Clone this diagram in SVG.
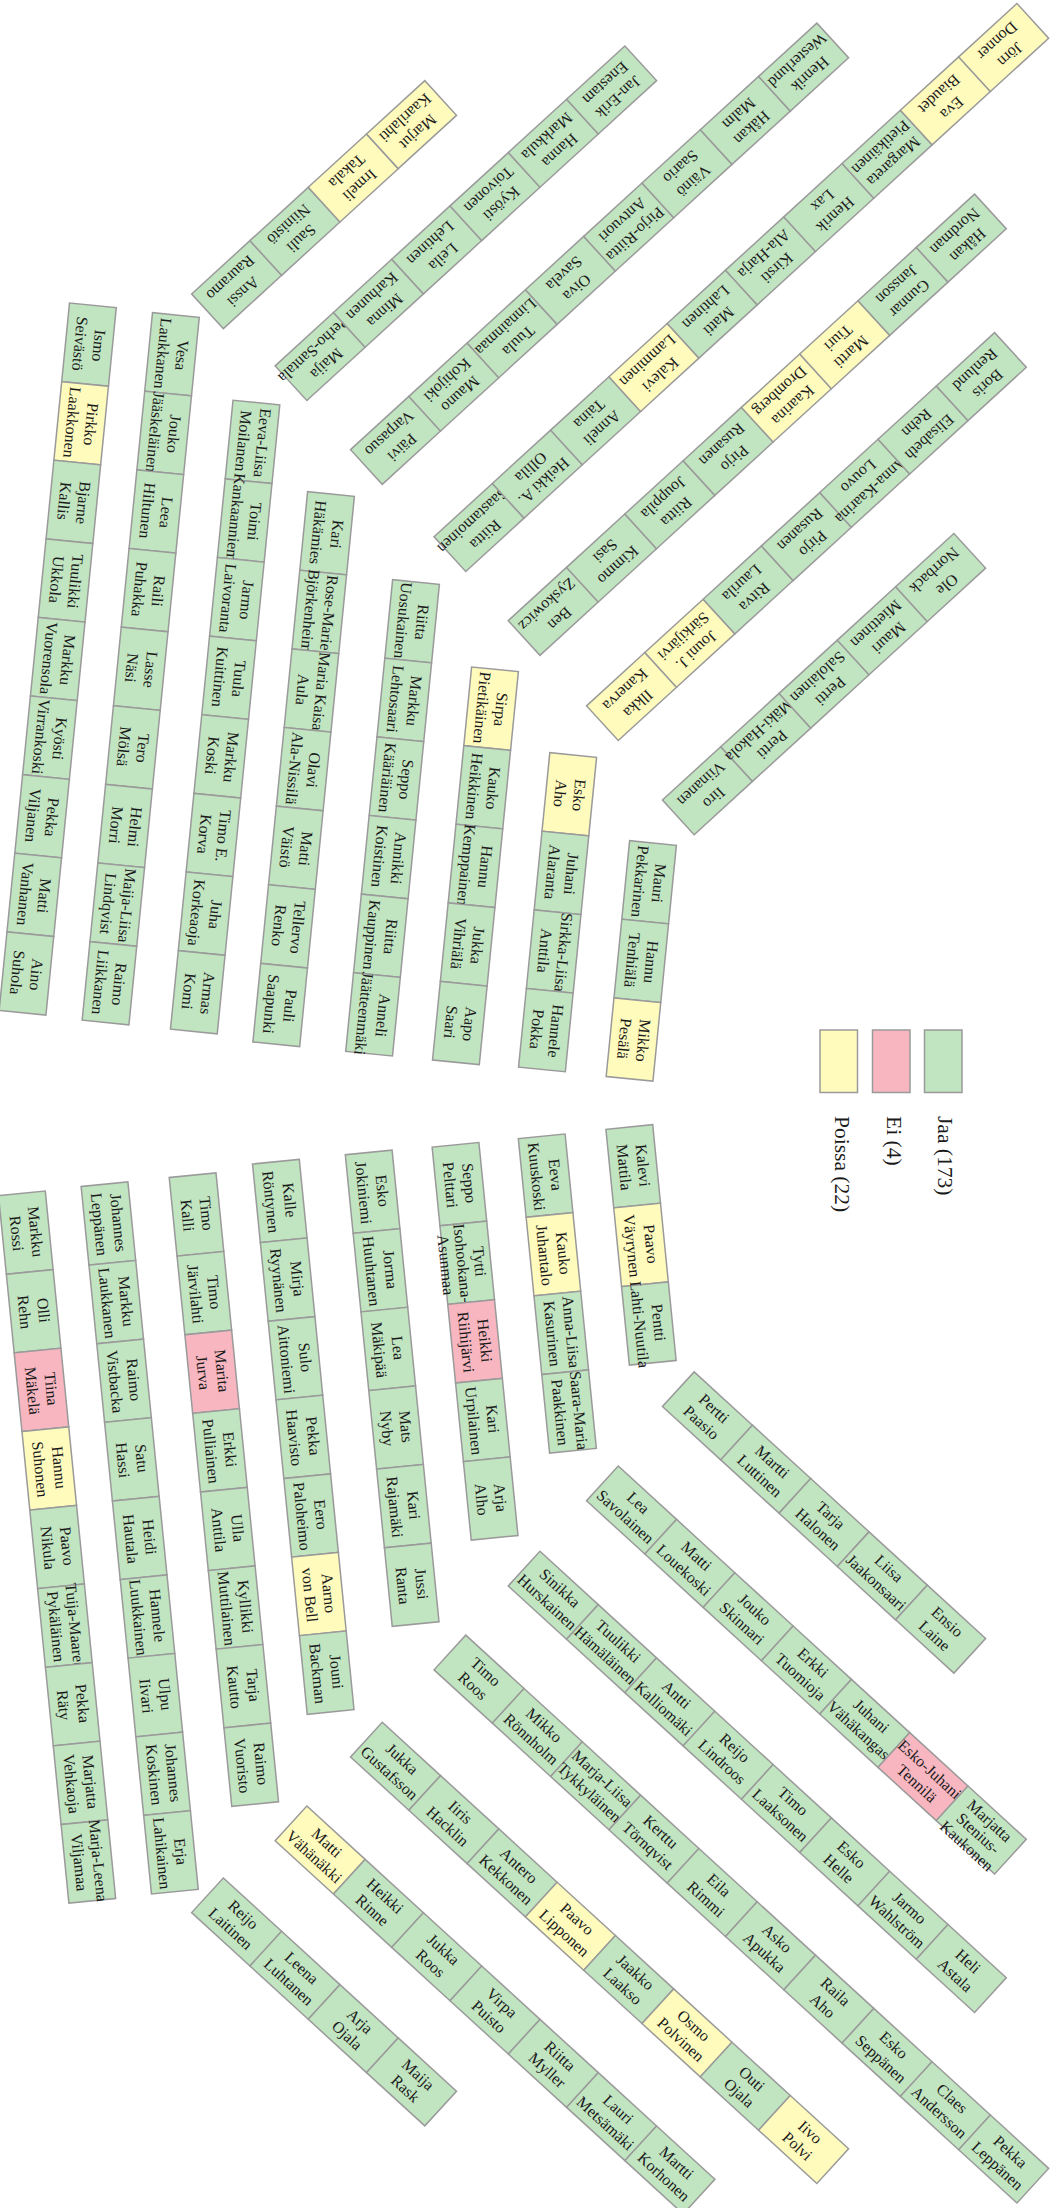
<svg xmlns="http://www.w3.org/2000/svg" width="1057" height="2208" viewBox="0 0 1057 2208">
<style>
rect{stroke:#9a9a9a;stroke-width:1.5}
.g rect{fill:#c1e4c1}
.y rect{fill:#fffbbd}
.r rect{fill:#f7b6c0}
text{font-family:"Liberation Serif","Times New Roman",serif;font-size:16px;fill:#1a1a1a;text-anchor:middle}
.lg{font-size:21.5px;text-anchor:start}
</style>
<rect x="0" y="0" width="1057" height="2208" style="fill:#ffffff;stroke:none"/>
<g id="connectors"></g>
<g id="sector-top-center">
<g id="row-A" transform="translate(92.9,305.3) rotate(95.68)">
<g id="A1" class="g" transform="translate(39.5)"><rect x="-39.5" y="-23.5" width="79" height="47"/><text y="-4.5">Ismo</text><text y="14.5">Seivästö</text></g>
<g id="A2" class="y" transform="translate(118.5)"><rect x="-39.5" y="-23.5" width="79" height="47"/><text y="-4.5">Pirkko</text><text y="14.5">Laakkonen</text></g>
<g id="A3" class="g" transform="translate(197.5)"><rect x="-39.5" y="-23.5" width="79" height="47"/><text y="-4.5">Bjarne</text><text y="14.5">Kallis</text></g>
<g id="A4" class="g" transform="translate(276.5)"><rect x="-39.5" y="-23.5" width="79" height="47"/><text y="-4.5">Tuulikki</text><text y="14.5">Ukkola</text></g>
<g id="A5" class="g" transform="translate(355.5)"><rect x="-39.5" y="-23.5" width="79" height="47"/><text y="-4.5">Markku</text><text y="14.5">Vuorensola</text></g>
<g id="A6" class="g" transform="translate(434.5)"><rect x="-39.5" y="-23.5" width="79" height="47"/><text y="-4.5">Kyösti</text><text y="14.5">Virrankoski</text></g>
<g id="A7" class="g" transform="translate(513.5)"><rect x="-39.5" y="-23.5" width="79" height="47"/><text y="-4.5">Pekka</text><text y="14.5">Viljanen</text></g>
<g id="A8" class="g" transform="translate(592.5)"><rect x="-39.5" y="-23.5" width="79" height="47"/><text y="-4.5">Matti</text><text y="14.5">Vanhanen</text></g>
<g id="A9" class="g" transform="translate(671.5)"><rect x="-39.5" y="-23.5" width="79" height="47"/><text y="-4.5">Aino</text><text y="14.5">Suhola</text></g>
</g>
<g id="row-B" transform="translate(175.9,315) rotate(95.68)">
<g id="B1" class="g" transform="translate(39.5)"><rect x="-39.5" y="-23.5" width="79" height="47"/><text y="-4.5">Vesa</text><text y="14.5">Laukkanen</text></g>
<g id="B2" class="g" transform="translate(118.5)"><rect x="-39.5" y="-23.5" width="79" height="47"/><text y="-4.5">Jouko</text><text y="14.5">Jääskeläinen</text></g>
<g id="B3" class="g" transform="translate(197.5)"><rect x="-39.5" y="-23.5" width="79" height="47"/><text y="-4.5">Leea</text><text y="14.5">Hiltunen</text></g>
<g id="B4" class="g" transform="translate(276.5)"><rect x="-39.5" y="-23.5" width="79" height="47"/><text y="-4.5">Raili</text><text y="14.5">Puhakka</text></g>
<g id="B5" class="g" transform="translate(355.5)"><rect x="-39.5" y="-23.5" width="79" height="47"/><text y="-4.5">Lasse</text><text y="14.5">Näsi</text></g>
<g id="B6" class="g" transform="translate(434.5)"><rect x="-39.5" y="-23.5" width="79" height="47"/><text y="-4.5">Tero</text><text y="14.5">Mölsä</text></g>
<g id="B7" class="g" transform="translate(513.5)"><rect x="-39.5" y="-23.5" width="79" height="47"/><text y="-4.5">Helmi</text><text y="14.5">Morri</text></g>
<g id="B8" class="g" transform="translate(592.5)"><rect x="-39.5" y="-23.5" width="79" height="47"/><text y="-4.5">Maija-Liisa</text><text y="14.5">Lindqvist</text></g>
<g id="B9" class="g" transform="translate(671.5)"><rect x="-39.5" y="-23.5" width="79" height="47"/><text y="-4.5">Raimo</text><text y="14.5">Liikkanen</text></g>
</g>
<g id="row-C" transform="translate(256.4,402.6) rotate(95.68)">
<g id="C1" class="g" transform="translate(39.5)"><rect x="-39.5" y="-23.5" width="79" height="47"/><text y="-4.5">Eeva-Liisa</text><text y="14.5">Moilanen</text></g>
<g id="C2" class="g" transform="translate(118.5)"><rect x="-39.5" y="-23.5" width="79" height="47"/><text y="-4.5">Toimi</text><text y="14.5">Kankaanniemi</text></g>
<g id="C3" class="g" transform="translate(197.5)"><rect x="-39.5" y="-23.5" width="79" height="47"/><text y="-4.5">Jarmo</text><text y="14.5">Laivoranta</text></g>
<g id="C4" class="g" transform="translate(276.5)"><rect x="-39.5" y="-23.5" width="79" height="47"/><text y="-4.5">Tuula</text><text y="14.5">Kuittinen</text></g>
<g id="C5" class="g" transform="translate(355.5)"><rect x="-39.5" y="-23.5" width="79" height="47"/><text y="-4.5">Markku</text><text y="14.5">Koski</text></g>
<g id="C6" class="g" transform="translate(434.5)"><rect x="-39.5" y="-23.5" width="79" height="47"/><text y="-4.5">Timo E.</text><text y="14.5">Korva</text></g>
<g id="C7" class="g" transform="translate(513.5)"><rect x="-39.5" y="-23.5" width="79" height="47"/><text y="-4.5">Juha</text><text y="14.5">Korkeaoja</text></g>
<g id="C8" class="g" transform="translate(592.5)"><rect x="-39.5" y="-23.5" width="79" height="47"/><text y="-4.5">Armas</text><text y="14.5">Komi</text></g>
</g>
<g id="row-D" transform="translate(331,494) rotate(95.68)">
<g id="D1" class="g" transform="translate(39.5)"><rect x="-39.5" y="-23.5" width="79" height="47"/><text y="-4.5">Kari</text><text y="14.5">Häkämies</text></g>
<g id="D2" class="g" transform="translate(118.5)"><rect x="-39.5" y="-23.5" width="79" height="47"/><text y="-4.5">Rose-Marie</text><text y="14.5">Björkenheim</text></g>
<g id="D3" class="g" transform="translate(197.5)"><rect x="-39.5" y="-23.5" width="79" height="47"/><text y="-4.5">Maria Kaisa</text><text y="14.5">Aula</text></g>
<g id="D4" class="g" transform="translate(276.5)"><rect x="-39.5" y="-23.5" width="79" height="47"/><text y="-4.5">Olavi</text><text y="14.5">Ala-Nissilä</text></g>
<g id="D5" class="g" transform="translate(355.5)"><rect x="-39.5" y="-23.5" width="79" height="47"/><text y="-4.5">Matti</text><text y="14.5">Väistö</text></g>
<g id="D6" class="g" transform="translate(434.5)"><rect x="-39.5" y="-23.5" width="79" height="47"/><text y="-4.5">Tellervo</text><text y="14.5">Renko</text></g>
<g id="D7" class="g" transform="translate(513.5)"><rect x="-39.5" y="-23.5" width="79" height="47"/><text y="-4.5">Pauli</text><text y="14.5">Saapunki</text></g>
</g>
<g id="row-E" transform="translate(416,582) rotate(95.68)">
<g id="E1" class="g" transform="translate(39.5)"><rect x="-39.5" y="-23.5" width="79" height="47"/><text y="-4.5">Riitta</text><text y="14.5">Uosukainen</text></g>
<g id="E2" class="g" transform="translate(118.5)"><rect x="-39.5" y="-23.5" width="79" height="47"/><text y="-4.5">Markku</text><text y="14.5">Lehtosaari</text></g>
<g id="E3" class="g" transform="translate(197.5)"><rect x="-39.5" y="-23.5" width="79" height="47"/><text y="-4.5">Seppo</text><text y="14.5">Kääriäinen</text></g>
<g id="E4" class="g" transform="translate(276.5)"><rect x="-39.5" y="-23.5" width="79" height="47"/><text y="-4.5">Annikki</text><text y="14.5">Koistinen</text></g>
<g id="E5" class="g" transform="translate(355.5)"><rect x="-39.5" y="-23.5" width="79" height="47"/><text y="-4.5">Riitta</text><text y="14.5">Kauppinen</text></g>
<g id="E6" class="g" transform="translate(434.5)"><rect x="-39.5" y="-23.5" width="79" height="47"/><text y="-4.5">Anneli</text><text y="14.5">Jäätteenmäki</text></g>
</g>
<g id="row-F" transform="translate(495,669.3) rotate(95.68)">
<g id="F1" class="y" transform="translate(39.5)"><rect x="-39.5" y="-23.5" width="79" height="47"/><text y="-4.5">Sirpa</text><text y="14.5">Pietikäinen</text></g>
<g id="F2" class="g" transform="translate(118.5)"><rect x="-39.5" y="-23.5" width="79" height="47"/><text y="-4.5">Kauko</text><text y="14.5">Heikkinen</text></g>
<g id="F3" class="g" transform="translate(197.5)"><rect x="-39.5" y="-23.5" width="79" height="47"/><text y="-4.5">Hannu</text><text y="14.5">Kemppainen</text></g>
<g id="F4" class="g" transform="translate(276.5)"><rect x="-39.5" y="-23.5" width="79" height="47"/><text y="-4.5">Jukka</text><text y="14.5">Vihriälä</text></g>
<g id="F5" class="g" transform="translate(355.5)"><rect x="-39.5" y="-23.5" width="79" height="47"/><text y="-4.5">Aapo</text><text y="14.5">Saari</text></g>
</g>
<g id="row-G" transform="translate(573.2,755) rotate(95.68)">
<g id="G1" class="y" transform="translate(39.5)"><rect x="-39.5" y="-23.5" width="79" height="47"/><text y="-4.5">Esko</text><text y="14.5">Aho</text></g>
<g id="G2" class="g" transform="translate(118.5)"><rect x="-39.5" y="-23.5" width="79" height="47"/><text y="-4.5">Juhani</text><text y="14.5">Alaranta</text></g>
<g id="G3" class="g" transform="translate(197.5)"><rect x="-39.5" y="-23.5" width="79" height="47"/><text y="-4.5">Sirkka-Liisa</text><text y="14.5">Anttila</text></g>
<g id="G4" class="g" transform="translate(276.5)"><rect x="-39.5" y="-23.5" width="79" height="47"/><text y="-4.5">Hannele</text><text y="14.5">Pokka</text></g>
</g>
<g id="row-H" transform="translate(653,843) rotate(95.68)">
<g id="H1" class="g" transform="translate(39.5)"><rect x="-39.5" y="-23.5" width="79" height="47"/><text y="-4.5">Mauri</text><text y="14.5">Pekkarinen</text></g>
<g id="H2" class="g" transform="translate(118.5)"><rect x="-39.5" y="-23.5" width="79" height="47"/><text y="-4.5">Hannu</text><text y="14.5">Tenhiälä</text></g>
<g id="H3" class="y" transform="translate(197.5)"><rect x="-39.5" y="-23.5" width="79" height="47"/><text y="-4.5">Mikko</text><text y="14.5">Pesälä</text></g>
</g>
</g>
<g id="sector-top-side">
<g id="row-T1" transform="translate(207.5,311.3) rotate(137.55)">
<g id="T1-1" class="g" transform="translate(-39.5)"><rect x="-39.5" y="-23.5" width="79" height="47"/><text y="-4.5">Anssi</text><text y="14.5">Rauramo</text></g>
<g id="T1-2" class="g" transform="translate(-118.5)"><rect x="-39.5" y="-23.5" width="79" height="47"/><text y="-4.5">Sauli</text><text y="14.5">Niinistö</text></g>
<g id="T1-3" class="y" transform="translate(-197.5)"><rect x="-39.5" y="-23.5" width="79" height="47"/><text y="-4.5">Irmeli</text><text y="14.5">Takala</text></g>
<g id="T1-4" class="y" transform="translate(-276.5)"><rect x="-39.5" y="-23.5" width="79" height="47"/><text y="-4.5">Marjut</text><text y="14.5">Kaarilahti</text></g>
</g>
<g id="row-T2" transform="translate(291,383.2) rotate(137.55)">
<g id="T2-1" class="g" transform="translate(-39.5)"><rect x="-39.5" y="-23.5" width="79" height="47"/><text y="-4.5">Maija</text><text y="14.5">Perho-Santala</text></g>
<g id="T2-2" class="g" transform="translate(-118.5)"><rect x="-39.5" y="-23.5" width="79" height="47"/><text y="-4.5">Minna</text><text y="14.5">Karhunen</text></g>
<g id="T2-3" class="g" transform="translate(-197.5)"><rect x="-39.5" y="-23.5" width="79" height="47"/><text y="-4.5">Leila</text><text y="14.5">Lehtinen</text></g>
<g id="T2-4" class="g" transform="translate(-276.5)"><rect x="-39.5" y="-23.5" width="79" height="47"/><text y="-4.5">Kyösti</text><text y="14.5">Toivonen</text></g>
<g id="T2-5" class="g" transform="translate(-355.5)"><rect x="-39.5" y="-23.5" width="79" height="47"/><text y="-4.5">Hanna</text><text y="14.5">Markkula</text></g>
<g id="T2-6" class="g" transform="translate(-434.5)"><rect x="-39.5" y="-23.5" width="79" height="47"/><text y="-4.5">Jan-Erik</text><text y="14.5">Enestam</text></g>
</g>
<g id="row-T3" transform="translate(366.4,467) rotate(137.55)">
<g id="T3-1" class="g" transform="translate(-39.5)"><rect x="-39.5" y="-23.5" width="79" height="47"/><text y="-4.5">Päivi</text><text y="14.5">Varpasuo</text></g>
<g id="T3-2" class="g" transform="translate(-118.5)"><rect x="-39.5" y="-23.5" width="79" height="47"/><text y="-4.5">Mauno</text><text y="14.5">Kohijoki</text></g>
<g id="T3-3" class="g" transform="translate(-197.5)"><rect x="-39.5" y="-23.5" width="79" height="47"/><text y="-4.5">Tuula</text><text y="14.5">Linnainmaa</text></g>
<g id="T3-4" class="g" transform="translate(-276.5)"><rect x="-39.5" y="-23.5" width="79" height="47"/><text y="-4.5">Oiva</text><text y="14.5">Savela</text></g>
<g id="T3-5" class="g" transform="translate(-355.5)"><rect x="-39.5" y="-23.5" width="79" height="47"/><text y="-4.5">Pirjo-Riitta</text><text y="14.5">Antvuori</text></g>
<g id="T3-6" class="g" transform="translate(-434.5)"><rect x="-39.5" y="-23.5" width="79" height="47"/><text y="-4.5">Väinö</text><text y="14.5">Saario</text></g>
<g id="T3-7" class="g" transform="translate(-513.5)"><rect x="-39.5" y="-23.5" width="79" height="47"/><text y="-4.5">Håkan</text><text y="14.5">Malm</text></g>
<g id="T3-8" class="g" transform="translate(-592.5)"><rect x="-39.5" y="-23.5" width="79" height="47"/><text y="-4.5">Henrik</text><text y="14.5">Westerlund</text></g>
</g>
<g id="row-T4" transform="translate(449.9,554.1) rotate(137.55)">
<g id="T4-1" class="g" transform="translate(-39.5)"><rect x="-39.5" y="-23.5" width="79" height="47"/><text y="-4.5">Riitta</text><text y="14.5">Saastamoinen</text></g>
<g id="T4-2" class="g" transform="translate(-118.5)"><rect x="-39.5" y="-23.5" width="79" height="47"/><text y="-4.5">Heikki A.</text><text y="14.5">Ollila</text></g>
<g id="T4-3" class="g" transform="translate(-197.5)"><rect x="-39.5" y="-23.5" width="79" height="47"/><text y="-4.5">Anneli</text><text y="14.5">Taina</text></g>
<g id="T4-4" class="y" transform="translate(-276.5)"><rect x="-39.5" y="-23.5" width="79" height="47"/><text y="-4.5">Kalevi</text><text y="14.5">Lamminen</text></g>
<g id="T4-5" class="g" transform="translate(-355.5)"><rect x="-39.5" y="-23.5" width="79" height="47"/><text y="-4.5">Matti</text><text y="14.5">Lahtinen</text></g>
<g id="T4-6" class="g" transform="translate(-434.5)"><rect x="-39.5" y="-23.5" width="79" height="47"/><text y="-4.5">Kirsti</text><text y="14.5">Ala-Harja</text></g>
<g id="T4-7" class="g" transform="translate(-513.5)"><rect x="-39.5" y="-23.5" width="79" height="47"/><text y="-4.5">Henrik</text><text y="14.5">Lax</text></g>
<g id="T4-8" class="g" transform="translate(-592.5)"><rect x="-39.5" y="-23.5" width="79" height="47"/><text y="-4.5">Margareta</text><text y="14.5">Pietikäinen</text></g>
<g id="T4-9" class="y" transform="translate(-671.5)"><rect x="-39.5" y="-23.5" width="79" height="47"/><text y="-4.5">Eva</text><text y="14.5">Biaudet</text></g>
<g id="T4-10" class="y" transform="translate(-750.5)"><rect x="-39.5" y="-23.5" width="79" height="47"/><text y="-4.5">Jörn</text><text y="14.5">Donner</text></g>
</g>
<g id="row-T5" transform="translate(524.1,638) rotate(137.55)">
<g id="T5-1" class="g" transform="translate(-39.5)"><rect x="-39.5" y="-23.5" width="79" height="47"/><text y="-4.5">Ben</text><text y="14.5">Zyskowicz</text></g>
<g id="T5-2" class="g" transform="translate(-118.5)"><rect x="-39.5" y="-23.5" width="79" height="47"/><text y="-4.5">Kimmo</text><text y="14.5">Sasi</text></g>
<g id="T5-3" class="g" transform="translate(-197.5)"><rect x="-39.5" y="-23.5" width="79" height="47"/><text y="-4.5">Riitta</text><text y="14.5">Jouppila</text></g>
<g id="T5-4" class="g" transform="translate(-276.5)"><rect x="-39.5" y="-23.5" width="79" height="47"/><text y="-4.5">Pirjo</text><text y="14.5">Rusanen</text></g>
<g id="T5-5" class="y" transform="translate(-355.5)"><rect x="-39.5" y="-23.5" width="79" height="47"/><text y="-4.5">Kaarina</text><text y="14.5">Dromberg</text></g>
<g id="T5-6" class="y" transform="translate(-434.5)"><rect x="-39.5" y="-23.5" width="79" height="47"/><text y="-4.5">Martti</text><text y="14.5">Tiuri</text></g>
<g id="T5-7" class="g" transform="translate(-513.5)"><rect x="-39.5" y="-23.5" width="79" height="47"/><text y="-4.5">Gunnar</text><text y="14.5">Jansson</text></g>
<g id="T5-8" class="g" transform="translate(-592.5)"><rect x="-39.5" y="-23.5" width="79" height="47"/><text y="-4.5">Håkan</text><text y="14.5">Nordman</text></g>
</g>
<g id="row-T6" transform="translate(602.4,723.2) rotate(137.55)">
<g id="T6-1" class="y" transform="translate(-39.5)"><rect x="-39.5" y="-23.5" width="79" height="47"/><text y="-4.5">Ilkka</text><text y="14.5">Kanerva</text></g>
<g id="T6-2" class="y" transform="translate(-118.5)"><rect x="-39.5" y="-23.5" width="79" height="47"/><text y="-4.5">Jouni J.</text><text y="14.5">Särkijärvi</text></g>
<g id="T6-3" class="g" transform="translate(-197.5)"><rect x="-39.5" y="-23.5" width="79" height="47"/><text y="-4.5">Ritva</text><text y="14.5">Laurila</text></g>
<g id="T6-4" class="g" transform="translate(-276.5)"><rect x="-39.5" y="-23.5" width="79" height="47"/><text y="-4.5">Pirjo</text><text y="14.5">Rusanen</text></g>
<g id="T6-5" class="g" transform="translate(-355.5)"><rect x="-39.5" y="-23.5" width="79" height="47"/><text y="-4.5">Anna-Kaarina</text><text y="14.5">Louvo</text></g>
<g id="T6-6" class="g" transform="translate(-434.5)"><rect x="-39.5" y="-23.5" width="79" height="47"/><text y="-4.5">Elisabeth</text><text y="14.5">Rehn</text></g>
<g id="T6-7" class="g" transform="translate(-513.5)"><rect x="-39.5" y="-23.5" width="79" height="47"/><text y="-4.5">Boris</text><text y="14.5">Renlund</text></g>
</g>
<g id="row-T7" transform="translate(678.3,817.4) rotate(137.55)">
<g id="T7-1" class="g" transform="translate(-39.5)"><rect x="-39.5" y="-23.5" width="79" height="47"/><text y="-4.5">Iiro</text><text y="14.5">Viinanen</text></g>
<g id="T7-2" class="g" transform="translate(-118.5)"><rect x="-39.5" y="-23.5" width="79" height="47"/><text y="-4.5">Pertti</text><text y="14.5">Mäki-Hakola</text></g>
<g id="T7-3" class="g" transform="translate(-197.5)"><rect x="-39.5" y="-23.5" width="79" height="47"/><text y="-4.5">Pertti</text><text y="14.5">Salolainen</text></g>
<g id="T7-4" class="g" transform="translate(-276.5)"><rect x="-39.5" y="-23.5" width="79" height="47"/><text y="-4.5">Mauri</text><text y="14.5">Miettinen</text></g>
<g id="T7-5" class="g" transform="translate(-355.5)"><rect x="-39.5" y="-23.5" width="79" height="47"/><text y="-4.5">Ole</text><text y="14.5">Norrback</text></g>
</g>
</g>
<g id="sector-bottom-center">
<g id="row-A2" transform="translate(21.9,1193.3) rotate(84.32)">
<g id="a1" class="g" transform="translate(39.5)"><rect x="-39.5" y="-23.5" width="79" height="47"/><text y="-4.5">Markku</text><text y="14.5">Rossi</text></g>
<g id="a2" class="g" transform="translate(118.5)"><rect x="-39.5" y="-23.5" width="79" height="47"/><text y="-4.5">Olli</text><text y="14.5">Rehn</text></g>
<g id="a3" class="r" transform="translate(197.5)"><rect x="-39.5" y="-23.5" width="79" height="47"/><text y="-4.5">Tiina</text><text y="14.5">Mäkelä</text></g>
<g id="a4" class="y" transform="translate(276.5)"><rect x="-39.5" y="-23.5" width="79" height="47"/><text y="-4.5">Hannu</text><text y="14.5">Suhonen</text></g>
<g id="a5" class="g" transform="translate(355.5)"><rect x="-39.5" y="-23.5" width="79" height="47"/><text y="-4.5">Paavo</text><text y="14.5">Nikula</text></g>
<g id="a6" class="g" transform="translate(434.5)"><rect x="-39.5" y="-23.5" width="79" height="47"/><text y="-4.5">Tuija-Maaret</text><text y="14.5">Pykäläinen</text></g>
<g id="a7" class="g" transform="translate(513.5)"><rect x="-39.5" y="-23.5" width="79" height="47"/><text y="-4.5">Pekka</text><text y="14.5">Räty</text></g>
<g id="a8" class="g" transform="translate(592.5)"><rect x="-39.5" y="-23.5" width="79" height="47"/><text y="-4.5">Marjatta</text><text y="14.5">Vehkaoja</text></g>
<g id="a9" class="g" transform="translate(671.5)"><rect x="-39.5" y="-23.5" width="79" height="47"/><text y="-4.5">Marja-Leena</text><text y="14.5">Viljamaa</text></g>
</g>
<g id="row-B2" transform="translate(104.5,1184.2) rotate(84.32)">
<g id="b1" class="g" transform="translate(39.5)"><rect x="-39.5" y="-23.5" width="79" height="47"/><text y="-4.5">Johannes</text><text y="14.5">Leppänen</text></g>
<g id="b2" class="g" transform="translate(118.5)"><rect x="-39.5" y="-23.5" width="79" height="47"/><text y="-4.5">Markku</text><text y="14.5">Laukkanen</text></g>
<g id="b3" class="g" transform="translate(197.5)"><rect x="-39.5" y="-23.5" width="79" height="47"/><text y="-4.5">Raimo</text><text y="14.5">Vistbacka</text></g>
<g id="b4" class="g" transform="translate(276.5)"><rect x="-39.5" y="-23.5" width="79" height="47"/><text y="-4.5">Satu</text><text y="14.5">Hassi</text></g>
<g id="b5" class="g" transform="translate(355.5)"><rect x="-39.5" y="-23.5" width="79" height="47"/><text y="-4.5">Heidi</text><text y="14.5">Hautala</text></g>
<g id="b6" class="g" transform="translate(434.5)"><rect x="-39.5" y="-23.5" width="79" height="47"/><text y="-4.5">Hannele</text><text y="14.5">Luukkainen</text></g>
<g id="b7" class="g" transform="translate(513.5)"><rect x="-39.5" y="-23.5" width="79" height="47"/><text y="-4.5">Ulpu</text><text y="14.5">Iivari</text></g>
<g id="b8" class="g" transform="translate(592.5)"><rect x="-39.5" y="-23.5" width="79" height="47"/><text y="-4.5">Johannes</text><text y="14.5">Koskinen</text></g>
<g id="b9" class="g" transform="translate(671.5)"><rect x="-39.5" y="-23.5" width="79" height="47"/><text y="-4.5">Erja</text><text y="14.5">Lahikainen</text></g>
</g>
<g id="row-C2" transform="translate(192.6,1175.2) rotate(84.32)">
<g id="c1" class="g" transform="translate(39.5)"><rect x="-39.5" y="-23.5" width="79" height="47"/><text y="-4.5">Timo</text><text y="14.5">Kalli</text></g>
<g id="c2" class="g" transform="translate(118.5)"><rect x="-39.5" y="-23.5" width="79" height="47"/><text y="-4.5">Timo</text><text y="14.5">Järvilahti</text></g>
<g id="c3" class="r" transform="translate(197.5)"><rect x="-39.5" y="-23.5" width="79" height="47"/><text y="-4.5">Marita</text><text y="14.5">Jurva</text></g>
<g id="c4" class="g" transform="translate(276.5)"><rect x="-39.5" y="-23.5" width="79" height="47"/><text y="-4.5">Erkki</text><text y="14.5">Pulliainen</text></g>
<g id="c5" class="g" transform="translate(355.5)"><rect x="-39.5" y="-23.5" width="79" height="47"/><text y="-4.5">Ulla</text><text y="14.5">Anttila</text></g>
<g id="c6" class="g" transform="translate(434.5)"><rect x="-39.5" y="-23.5" width="79" height="47"/><text y="-4.5">Kyllikki</text><text y="14.5">Muttilainen</text></g>
<g id="c7" class="g" transform="translate(513.5)"><rect x="-39.5" y="-23.5" width="79" height="47"/><text y="-4.5">Tarja</text><text y="14.5">Kautto</text></g>
<g id="c8" class="g" transform="translate(592.5)"><rect x="-39.5" y="-23.5" width="79" height="47"/><text y="-4.5">Raimo</text><text y="14.5">Vuoristo</text></g>
</g>
<g id="row-D2" transform="translate(275.9,1161.7) rotate(84.32)">
<g id="d1" class="g" transform="translate(39.5)"><rect x="-39.5" y="-23.5" width="79" height="47"/><text y="-4.5">Kalle</text><text y="14.5">Röntynen</text></g>
<g id="d2" class="g" transform="translate(118.5)"><rect x="-39.5" y="-23.5" width="79" height="47"/><text y="-4.5">Mirja</text><text y="14.5">Ryynänen</text></g>
<g id="d3" class="g" transform="translate(197.5)"><rect x="-39.5" y="-23.5" width="79" height="47"/><text y="-4.5">Sulo</text><text y="14.5">Aittoniemi</text></g>
<g id="d4" class="g" transform="translate(276.5)"><rect x="-39.5" y="-23.5" width="79" height="47"/><text y="-4.5">Pekka</text><text y="14.5">Haavisto</text></g>
<g id="d5" class="g" transform="translate(355.5)"><rect x="-39.5" y="-23.5" width="79" height="47"/><text y="-4.5">Eero</text><text y="14.5">Paloheimo</text></g>
<g id="d6" class="y" transform="translate(434.5)"><rect x="-39.5" y="-23.5" width="79" height="47"/><text y="-4.5">Aarno</text><text y="14.5">von Bell</text></g>
<g id="d7" class="g" transform="translate(513.5)"><rect x="-39.5" y="-23.5" width="79" height="47"/><text y="-4.5">Jouni</text><text y="14.5">Backman</text></g>
</g>
<g id="row-E2" transform="translate(368.7,1152.4) rotate(84.32)">
<g id="e1" class="g" transform="translate(39.5)"><rect x="-39.5" y="-23.5" width="79" height="47"/><text y="-4.5">Esko</text><text y="14.5">Jokiniemi</text></g>
<g id="e2" class="g" transform="translate(118.5)"><rect x="-39.5" y="-23.5" width="79" height="47"/><text y="-4.5">Jorma</text><text y="14.5">Huuhtanen</text></g>
<g id="e3" class="g" transform="translate(197.5)"><rect x="-39.5" y="-23.5" width="79" height="47"/><text y="-4.5">Lea</text><text y="14.5">Mäkipää</text></g>
<g id="e4" class="g" transform="translate(276.5)"><rect x="-39.5" y="-23.5" width="79" height="47"/><text y="-4.5">Mats</text><text y="14.5">Nyby</text></g>
<g id="e5" class="g" transform="translate(355.5)"><rect x="-39.5" y="-23.5" width="79" height="47"/><text y="-4.5">Kari</text><text y="14.5">Rajamäki</text></g>
<g id="e6" class="g" transform="translate(434.5)"><rect x="-39.5" y="-23.5" width="79" height="47"/><text y="-4.5">Jussi</text><text y="14.5">Ranta</text></g>
</g>
<g id="row-F2" transform="translate(455.5,1144.8) rotate(84.32)">
<g id="f1" class="g" transform="translate(39.5)"><rect x="-39.5" y="-23.5" width="79" height="47"/><text y="-4.5">Seppo</text><text y="14.5">Pelttari</text></g>
<g id="f2" class="g" transform="translate(118.5)"><rect x="-39.5" y="-23.5" width="79" height="47"/><text y="-7">Tytti</text><text y="10">Isohookana-</text><text y="27">Asunmaa</text></g>
<g id="f3" class="r" transform="translate(197.5)"><rect x="-39.5" y="-23.5" width="79" height="47"/><text y="-4.5">Heikki</text><text y="14.5">Riihijärvi</text></g>
<g id="f4" class="g" transform="translate(276.5)"><rect x="-39.5" y="-23.5" width="79" height="47"/><text y="-4.5">Kari</text><text y="14.5">Urpilainen</text></g>
<g id="f5" class="g" transform="translate(355.5)"><rect x="-39.5" y="-23.5" width="79" height="47"/><text y="-4.5">Arja</text><text y="14.5">Alho</text></g>
</g>
<g id="row-G2" transform="translate(541.7,1136.3) rotate(84.32)">
<g id="g1" class="g" transform="translate(39.5)"><rect x="-39.5" y="-23.5" width="79" height="47"/><text y="-4.5">Eeva</text><text y="14.5">Kuuskoski</text></g>
<g id="g2" class="y" transform="translate(118.5)"><rect x="-39.5" y="-23.5" width="79" height="47"/><text y="-4.5">Kauko</text><text y="14.5">Juhantalo</text></g>
<g id="g3" class="g" transform="translate(197.5)"><rect x="-39.5" y="-23.5" width="79" height="47"/><text y="-4.5">Anna-Liisa</text><text y="14.5">Kasurinen</text></g>
<g id="g4" class="g" transform="translate(276.5)"><rect x="-39.5" y="-23.5" width="79" height="47"/><text y="-4.5">Saara-Maria</text><text y="14.5">Paakkinen</text></g>
</g>
<g id="row-H2" transform="translate(629.3,1127) rotate(84.32)">
<g id="h1" class="g" transform="translate(39.5)"><rect x="-39.5" y="-23.5" width="79" height="47"/><text y="-4.5">Kalevi</text><text y="14.5">Mattila</text></g>
<g id="h2" class="y" transform="translate(118.5)"><rect x="-39.5" y="-23.5" width="79" height="47"/><text y="-4.5">Paavo</text><text y="14.5">Väyrynen</text></g>
<g id="h3" class="g" transform="translate(197.5)"><rect x="-39.5" y="-23.5" width="79" height="47"/><text y="-4.5">Pentti</text><text y="14.5">Lahti-Nuutila</text></g>
</g>
</g>
<g id="sector-bottom-side">
<g id="row-B1" transform="translate(207.5,1895.3) rotate(42.45)">
<g id="B1-1" class="g" transform="translate(39.5)"><rect x="-39.5" y="-23.5" width="79" height="47"/><text y="-4.5">Reijo</text><text y="14.5">Laitinen</text></g>
<g id="B1-2" class="g" transform="translate(118.5)"><rect x="-39.5" y="-23.5" width="79" height="47"/><text y="-4.5">Leena</text><text y="14.5">Luhtanen</text></g>
<g id="B1-3" class="g" transform="translate(197.5)"><rect x="-39.5" y="-23.5" width="79" height="47"/><text y="-4.5">Arja</text><text y="14.5">Ojala</text></g>
<g id="B1-4" class="g" transform="translate(276.5)"><rect x="-39.5" y="-23.5" width="79" height="47"/><text y="-4.5">Maija</text><text y="14.5">Rask</text></g>
</g>
<g id="row-B2b" transform="translate(291,1823.4) rotate(42.45)">
<g id="B2-1" class="y" transform="translate(39.5)"><rect x="-39.5" y="-23.5" width="79" height="47"/><text y="-4.5">Matti</text><text y="14.5">Vähänäkki</text></g>
<g id="B2-2" class="g" transform="translate(118.5)"><rect x="-39.5" y="-23.5" width="79" height="47"/><text y="-4.5">Heikki</text><text y="14.5">Rinne</text></g>
<g id="B2-3" class="g" transform="translate(197.5)"><rect x="-39.5" y="-23.5" width="79" height="47"/><text y="-4.5">Jukka</text><text y="14.5">Roos</text></g>
<g id="B2-4" class="g" transform="translate(276.5)"><rect x="-39.5" y="-23.5" width="79" height="47"/><text y="-4.5">Virpa</text><text y="14.5">Puisto</text></g>
<g id="B2-5" class="g" transform="translate(355.5)"><rect x="-39.5" y="-23.5" width="79" height="47"/><text y="-4.5">Riitta</text><text y="14.5">Myller</text></g>
<g id="B2-6" class="g" transform="translate(434.5)"><rect x="-39.5" y="-23.5" width="79" height="47"/><text y="-4.5">Lauri</text><text y="14.5">Metsämäki</text></g>
<g id="B2-7" class="g" transform="translate(513.5)"><rect x="-39.5" y="-23.5" width="79" height="47"/><text y="-4.5">Martti</text><text y="14.5">Korhonen</text></g>
</g>
<g id="row-B3" transform="translate(366.4,1739.6) rotate(42.45)">
<g id="B3-1" class="g" transform="translate(39.5)"><rect x="-39.5" y="-23.5" width="79" height="47"/><text y="-4.5">Jukka</text><text y="14.5">Gustafsson</text></g>
<g id="B3-2" class="g" transform="translate(118.5)"><rect x="-39.5" y="-23.5" width="79" height="47"/><text y="-4.5">Iiris</text><text y="14.5">Hacklin</text></g>
<g id="B3-3" class="g" transform="translate(197.5)"><rect x="-39.5" y="-23.5" width="79" height="47"/><text y="-4.5">Antero</text><text y="14.5">Kekkonen</text></g>
<g id="B3-4" class="y" transform="translate(276.5)"><rect x="-39.5" y="-23.5" width="79" height="47"/><text y="-4.5">Paavo</text><text y="14.5">Lipponen</text></g>
<g id="B3-5" class="g" transform="translate(355.5)"><rect x="-39.5" y="-23.5" width="79" height="47"/><text y="-4.5">Jaakko</text><text y="14.5">Laakso</text></g>
<g id="B3-6" class="y" transform="translate(434.5)"><rect x="-39.5" y="-23.5" width="79" height="47"/><text y="-4.5">Osmo</text><text y="14.5">Polvinen</text></g>
<g id="B3-7" class="g" transform="translate(513.5)"><rect x="-39.5" y="-23.5" width="79" height="47"/><text y="-4.5">Outi</text><text y="14.5">Ojala</text></g>
<g id="B3-8" class="y" transform="translate(592.5)"><rect x="-39.5" y="-23.5" width="79" height="47"/><text y="-4.5">Iivo</text><text y="14.5">Polvi</text></g>
</g>
<g id="row-B4" transform="translate(449.9,1652.5) rotate(42.45)">
<g id="B4-1" class="g" transform="translate(39.5)"><rect x="-39.5" y="-23.5" width="79" height="47"/><text y="-4.5">Timo</text><text y="14.5">Roos</text></g>
<g id="B4-2" class="g" transform="translate(118.5)"><rect x="-39.5" y="-23.5" width="79" height="47"/><text y="-4.5">Mikko</text><text y="14.5">Rönnholm</text></g>
<g id="B4-3" class="g" transform="translate(197.5)"><rect x="-39.5" y="-23.5" width="79" height="47"/><text y="-4.5">Marja-Liisa</text><text y="14.5">Tykkyläinen</text></g>
<g id="B4-4" class="g" transform="translate(276.5)"><rect x="-39.5" y="-23.5" width="79" height="47"/><text y="-4.5">Kerttu</text><text y="14.5">Törnqvist</text></g>
<g id="B4-5" class="g" transform="translate(355.5)"><rect x="-39.5" y="-23.5" width="79" height="47"/><text y="-4.5">Eila</text><text y="14.5">Rimmi</text></g>
<g id="B4-6" class="g" transform="translate(434.5)"><rect x="-39.5" y="-23.5" width="79" height="47"/><text y="-4.5">Asko</text><text y="14.5">Apukka</text></g>
<g id="B4-7" class="g" transform="translate(513.5)"><rect x="-39.5" y="-23.5" width="79" height="47"/><text y="-4.5">Raila</text><text y="14.5">Aho</text></g>
<g id="B4-8" class="g" transform="translate(592.5)"><rect x="-39.5" y="-23.5" width="79" height="47"/><text y="-4.5">Esko</text><text y="14.5">Seppänen</text></g>
<g id="B4-9" class="g" transform="translate(671.5)"><rect x="-39.5" y="-23.5" width="79" height="47"/><text y="-4.5">Claes</text><text y="14.5">Andersson</text></g>
<g id="B4-10" class="g" transform="translate(750.5)"><rect x="-39.5" y="-23.5" width="79" height="47"/><text y="-4.5">Pekka</text><text y="14.5">Leppänen</text></g>
</g>
<g id="row-B5" transform="translate(524.1,1568.6) rotate(42.45)">
<g id="B5-1" class="g" transform="translate(39.5)"><rect x="-39.5" y="-23.5" width="79" height="47"/><text y="-4.5">Sinikka</text><text y="14.5">Hurskainen</text></g>
<g id="B5-2" class="g" transform="translate(118.5)"><rect x="-39.5" y="-23.5" width="79" height="47"/><text y="-4.5">Tuulikki</text><text y="14.5">Hämäläinen</text></g>
<g id="B5-3" class="g" transform="translate(197.5)"><rect x="-39.5" y="-23.5" width="79" height="47"/><text y="-4.5">Antti</text><text y="14.5">Kalliomäki</text></g>
<g id="B5-4" class="g" transform="translate(276.5)"><rect x="-39.5" y="-23.5" width="79" height="47"/><text y="-4.5">Reijo</text><text y="14.5">Lindroos</text></g>
<g id="B5-5" class="g" transform="translate(355.5)"><rect x="-39.5" y="-23.5" width="79" height="47"/><text y="-4.5">Timo</text><text y="14.5">Laaksonen</text></g>
<g id="B5-6" class="g" transform="translate(434.5)"><rect x="-39.5" y="-23.5" width="79" height="47"/><text y="-4.5">Esko</text><text y="14.5">Helle</text></g>
<g id="B5-7" class="g" transform="translate(513.5)"><rect x="-39.5" y="-23.5" width="79" height="47"/><text y="-4.5">Jarmo</text><text y="14.5">Wahlström</text></g>
<g id="B5-8" class="g" transform="translate(592.5)"><rect x="-39.5" y="-23.5" width="79" height="47"/><text y="-4.5">Heli</text><text y="14.5">Astala</text></g>
</g>
<g id="row-B6" transform="translate(602.4,1483.4) rotate(42.45)">
<g id="B6-1" class="g" transform="translate(39.5)"><rect x="-39.5" y="-23.5" width="79" height="47"/><text y="-4.5">Lea</text><text y="14.5">Savolainen</text></g>
<g id="B6-2" class="g" transform="translate(118.5)"><rect x="-39.5" y="-23.5" width="79" height="47"/><text y="-4.5">Matti</text><text y="14.5">Louekoski</text></g>
<g id="B6-3" class="g" transform="translate(197.5)"><rect x="-39.5" y="-23.5" width="79" height="47"/><text y="-4.5">Jouko</text><text y="14.5">Skinnari</text></g>
<g id="B6-4" class="g" transform="translate(276.5)"><rect x="-39.5" y="-23.5" width="79" height="47"/><text y="-4.5">Erkki</text><text y="14.5">Tuomioja</text></g>
<g id="B6-5" class="g" transform="translate(355.5)"><rect x="-39.5" y="-23.5" width="79" height="47"/><text y="-4.5">Juhani</text><text y="14.5">Vähäkangas</text></g>
<g id="B6-6" class="r" transform="translate(434.5)"><rect x="-39.5" y="-23.5" width="79" height="47"/><text y="-4.5">Esko-Juhani</text><text y="14.5">Tennilä</text></g>
<g id="B6-7" class="g" transform="translate(513.5)"><rect x="-39.5" y="-23.5" width="79" height="47"/><text y="-7">Marjatta</text><text y="10">Stenius-</text><text y="27">Kaukonen</text></g>
</g>
<g id="row-B7" transform="translate(678.3,1389.2) rotate(42.45)">
<g id="B7-1" class="g" transform="translate(39.5)"><rect x="-39.5" y="-23.5" width="79" height="47"/><text y="-4.5">Pertti</text><text y="14.5">Paasio</text></g>
<g id="B7-2" class="g" transform="translate(118.5)"><rect x="-39.5" y="-23.5" width="79" height="47"/><text y="-4.5">Martti</text><text y="14.5">Luttinen</text></g>
<g id="B7-3" class="g" transform="translate(197.5)"><rect x="-39.5" y="-23.5" width="79" height="47"/><text y="-4.5">Tarja</text><text y="14.5">Halonen</text></g>
<g id="B7-4" class="g" transform="translate(276.5)"><rect x="-39.5" y="-23.5" width="79" height="47"/><text y="-4.5">Liisa</text><text y="14.5">Jaakonsaari</text></g>
<g id="B7-5" class="g" transform="translate(355.5)"><rect x="-39.5" y="-23.5" width="79" height="47"/><text y="-4.5">Ensio</text><text y="14.5">Laine</text></g>
</g>
</g>
<g id="legend">
<g id="legend-poissa" class="y"><rect x="820" y="1030" width="37.5" height="62.5"/><text class="lg" transform="translate(835,1116) rotate(90)">Poissa (22)</text></g>
<g id="legend-ei" class="r"><rect x="872.5" y="1030" width="37.5" height="62.5"/><text class="lg" transform="translate(886.5,1116) rotate(90)">Ei (4)</text></g>
<g id="legend-jaa" class="g"><rect x="924.5" y="1030" width="37.5" height="62.5"/><text class="lg" transform="translate(938,1116) rotate(90)">Jaa (173)</text></g>
</g>
</svg>
